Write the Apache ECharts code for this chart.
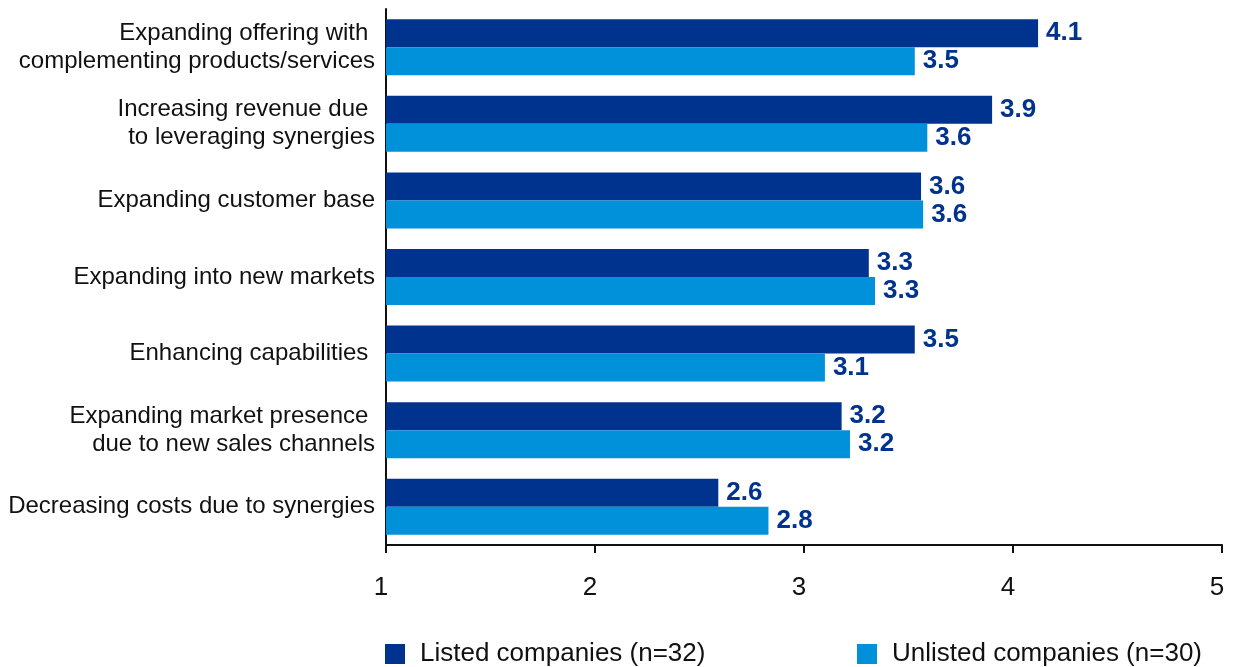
<!DOCTYPE html>
<html>
<head>
<meta charset="utf-8">
<script src="https://cdn.jsdelivr.net/npm/echarts@6/dist/echarts.min.js"></script>
<style>
  html, body { margin: 0; padding: 0; background: #fff; }
  #chart { width: 1233px; height: 667px; }
</style>
</head>
<body>
<div id="chart"></div>
<script>
// Reasons for the acquisition, average rating (1 = low, 5 = high)
const categories = [
  'Expanding offering with \ncomplementing products/services',
  'Increasing revenue due \nto leveraging synergies',
  'Expanding customer base',
  'Expanding into new markets',
  'Enhancing capabilities ',
  'Expanding market presence \ndue to new sales channels',
  'Decreasing costs due to synergies'
];
const listedName = 'Listed companies (n=32)';
const unlistedName = 'Unlisted companies (n=30)';
const listedValues = [4.12, 3.90, 3.56, 3.31, 3.53, 3.18, 2.59];
const unlistedValues = [3.53, 3.59, 3.57, 3.34, 3.10, 3.22, 2.83];
const axisTicks = [1, 2, 3, 4, 5];

const FONT = '"Liberation Sans", Arial, sans-serif';
const DARK = '#00338D';
const LIGHT = '#0091DA';

const chart = echarts.init(document.getElementById('chart'), null, { renderer: 'canvas' });

const valueLabel = {
  show: true,
  position: 'right',
  distance: 8,
  color: DARK,
  fontFamily: FONT,
  fontWeight: 'bold',
  fontSize: 26,
  formatter: p => p.value.toFixed(1)
};

const legendText = { fontFamily: FONT, fontSize: 26, color: '#111', padding: [0, 0, 0, 10] };

chart.setOption({
  animation: false,
  backgroundColor: '#fff',
  grid: { left: 386, right: 11, top: 9, bottom: 122, containLabel: false },
  legend: [
    {
      data: [listedName],
      left: 380, top: 636,
      icon: 'rect', itemWidth: 20, itemHeight: 20,
      selectedMode: false,
      textStyle: legendText
    },
    {
      data: [unlistedName],
      left: 852, top: 636,
      icon: 'rect', itemWidth: 20, itemHeight: 20,
      selectedMode: false,
      textStyle: legendText
    }
  ],
  xAxis: {
    type: 'value',
    min: axisTicks[0],
    max: axisTicks[axisTicks.length - 1],
    interval: 1,
    splitLine: { show: false },
    axisLine: { show: true, lineStyle: { color: '#111', width: 2 } },
    axisTick: { show: true, length: 8, lineStyle: { color: '#111', width: 2 } },
    axisLabel: {
      margin: 30,
      color: '#111',
      fontFamily: FONT,
      fontSize: 26,
      padding: [0, 10, 0, 0]
    }
  },
  yAxis: {
    type: 'category',
    data: categories,
    inverse: true,
    axisLine: { show: true, lineStyle: { color: '#111', width: 2 } },
    axisTick: { show: false },
    axisLabel: {
      margin: 11,
      color: '#111',
      fontFamily: FONT,
      fontSize: 24,
      lineHeight: 28,
      align: 'right'
    }
  },
  series: [
    {
      name: listedName,
      type: 'bar',
      data: listedValues,
      barWidth: 28,
      barGap: '0%',
      itemStyle: { color: DARK },
      label: valueLabel
    },
    {
      name: unlistedName,
      type: 'bar',
      data: unlistedValues,
      barWidth: 28,
      barGap: '0%',
      itemStyle: { color: LIGHT },
      label: valueLabel
    }
  ]
});
</script>
</body>
</html>
